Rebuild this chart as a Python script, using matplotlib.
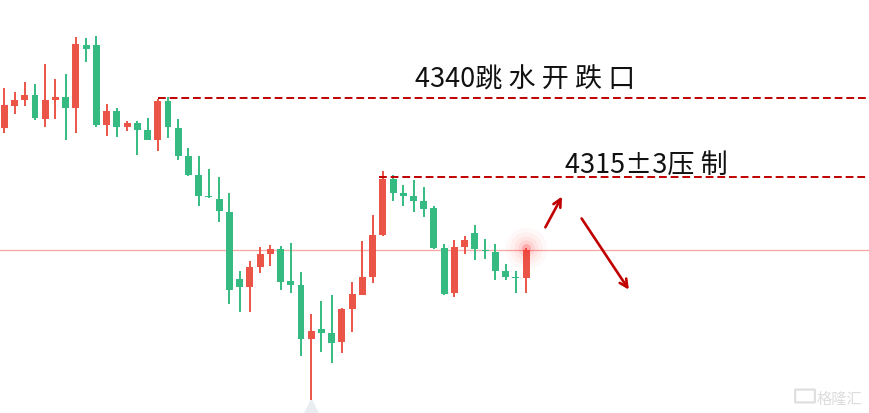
import matplotlib
matplotlib.use("Agg")
from matplotlib import pyplot as plt
from matplotlib.patches import FancyBboxPatch

plt.rcParams['font.family'] = ['Noto Sans CJK SC', 'DejaVu Sans']

# candle data, red = up, green = down
opens = [4330.6, 4337.6, 4339.5, 4340.9, 4333.4, 4339.5, 4340.3, 4336.9, 4356.8, 4356.8,
         4331.6, 4335.9, 4330.9, 4332.1, 4329.9, 4326.8, 4339.1, 4330.5, 4321.6, 4315.6,
         4309.1, 4308.0, 4303.9, 4282.7, 4280.3, 4286.6, 4290.7, 4292.2, 4282.1, 4280.8,
         4263.8, 4266.9, 4265.6, 4262.9, 4273.3, 4277.8, 4283.4, 4296.7, 4314.4, 4309.9,
         4309.0, 4307.4, 4305.2, 4292.5, 4278.4, 4292.9, 4297.3, 4292.0, 4291.3, 4285.3,
         4283.4, 4283.1]
closes = [4337.8, 4339.4, 4340.9, 4333.8, 4339.4, 4340.3, 4336.9, 4357.1, 4355.6, 4331.6,
          4335.9, 4330.9, 4332.1, 4330.0, 4326.8, 4339.1, 4330.9, 4321.7, 4315.7, 4309.1,
          4308.7, 4304.3, 4279.3, 4280.3, 4286.5, 4290.6, 4292.2, 4281.9, 4280.9, 4263.8,
          4266.3, 4265.7, 4262.6, 4273.2, 4278.0, 4283.4, 4296.6, 4314.4, 4310.0, 4309.1,
          4307.5, 4305.0, 4292.5, 4278.1, 4292.8, 4295.1, 4292.1, 4291.5, 4285.3, 4283.4,
          4283.1, 4292.0]
highs = [4343.2, 4341.9, 4345.1, 4344.4, 4350.8, 4346.0, 4347.6, 4359.3, 4359.0, 4359.6,
         4338.1, 4336.8, 4332.7, 4332.7, 4333.8, 4339.7, 4340.3, 4333.4, 4324.2, 4321.6,
         4317.5, 4315.0, 4309.9, 4285.3, 4288.4, 4292.8, 4293.5, 4293.2, 4294.1, 4284.9,
         4271.6, 4275.8, 4277.7, 4273.5, 4281.8, 4294.7, 4303.0, 4316.9, 4315.6, 4312.5,
         4314.1, 4311.8, 4305.8, 4293.8, 4295.1, 4296.3, 4299.8, 4295.4, 4293.8, 4287.5,
         4285.3, 4292.6]
lows = [4329.0, 4335.0, 4337.6, 4333.1, 4330.9, 4333.4, 4326.8, 4329.0, 4351.5, 4330.9,
        4328.1, 4327.8, 4329.7, 4322.1, 4326.8, 4323.3, 4327.4, 4320.5, 4315.4, 4305.9,
        4308.4, 4300.9, 4274.9, 4272.4, 4272.4, 4284.7, 4286.9, 4279.3, 4278.4, 4258.4,
        4244.5, 4259.7, 4256.2, 4259.4, 4266.0, 4281.5, 4281.5, 4296.4, 4307.5, 4305.9,
        4304.0, 4302.4, 4292.3, 4277.8, 4277.1, 4290.7, 4288.8, 4289.1, 4282.5, 4282.5,
        4278.4, 4278.4]

level_gap = 4340
level_press = 4315
label_gap = '4340跳 水 开 跌 口'
label_press = '4315±3压 制'

RED = '#eb5548'
GREEN = '#35bb82'
DARK_RED = '#c00000'

fig = plt.figure(figsize=(8.7, 4.14), dpi=100)
ax = fig.add_axes([0, 0, 1, 1])
ax.set_xlim(-0.42, 84.62)
ax.set_ylim(4240.3, 4371.33)
ax.axis('off')

# current price line
ax.axhline(closes[-1], color='#f7a5a5', lw=0.9, zorder=1)

for i, (o, c, h, l) in enumerate(zip(opens, closes, highs, lows)):
    col = RED if c >= o else GREEN
    ax.vlines(i, l, h, color=col, lw=1.4, zorder=2)
    bottom = min(o, c)
    height = max(abs(c - o), 0.35)
    ax.bar(i, height, bottom=bottom, width=0.68, color=col, zorder=3)

# glow on the last candle
n = len(closes) - 1
for s, a in [(900, 0.03), (550, 0.04), (300, 0.06), (140, 0.09), (40, 0.25)]:
    ax.scatter(n, highs[-1], s=s, color='#ff3030', alpha=a, lw=0, zorder=4)

# marker under the lowest low
low_i = lows.index(min(lows))
ax.scatter(low_i, 4241.5, marker='^', s=260, color='#e9ecf1', lw=0, zorder=1)

# resistance lines
ax.hlines(level_gap, 15.0, 84.62, color=DARK_RED, lw=1.4, linestyles=(0, (4, 2)), zorder=5)
ax.hlines(level_press, 36.6, 84.62, color=DARK_RED, lw=1.4, linestyles=(0, (4, 2)), zorder=5)

ax.text(40.15, 4343.5, label_gap, fontsize=19.5, color='#111111', va='baseline', ha='left')
ax.text(54.8, 4316.6, label_press, fontsize=19.5, color='#111111', va='baseline', ha='left')

# arrows
ax.annotate('', xy=(54.64, 4309.6), xytext=(52.76, 4298.3),
            arrowprops=dict(arrowstyle='->', color=DARK_RED, lw=1.9, mutation_scale=14))
ax.annotate('', xy=(61.2, 4278.6), xytext=(56.28, 4302.6),
            arrowprops=dict(arrowstyle='->', color=DARK_RED, lw=1.9, mutation_scale=14))

# watermark
icon = FancyBboxPatch((796 / 870, 1 - 403 / 414), 18 / 870, 12 / 414,
                      boxstyle='round,pad=0.001', transform=fig.transFigure,
                      fill=False, edgecolor='#dedede', lw=1.5)
fig.patches.append(icon)
fig.text(817 / 870, 1 - 404 / 414, '格隆汇', fontsize=11, color='#dcdcdc', va='baseline')

fig.savefig('out.png', dpi=100)
